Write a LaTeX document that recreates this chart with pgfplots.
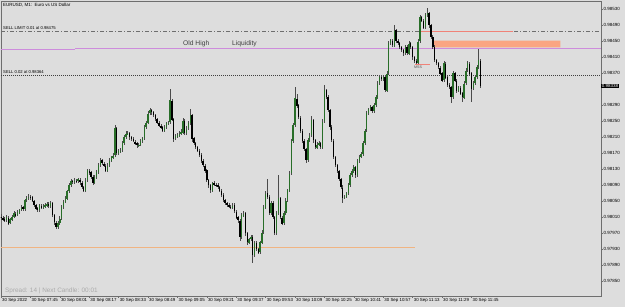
\documentclass[border=0pt]{standalone}
\usepackage{fontspec}
\setmainfont{Liberation Sans}
\usepackage{pgfplots}
\usepackage{pgfplotstable}
\pgfplotsset{compat=1.18}
\definecolor{bgc}{RGB}{221,221,221}
\definecolor{framec}{RGB}{110,110,110}
\definecolor{bull}{RGB}{40,110,40}
\definecolor{wick}{RGB}{75,75,75}
\definecolor{salmonf}{RGB}{250,165,130}
\definecolor{salmonl}{RGB}{240,130,120}
\definecolor{purp}{RGB}{205,140,220}
\definecolor{orangel}{RGB}{240,180,130}
\definecolor{lvl}{RGB}{110,110,110}

\pgfplotstableread{
t o h l c
0 0.98012 0.98018 0.98003 0.98008
1 0.98008 0.98012 0.98000 0.98005
2 0.98005 0.98010 0.97998 0.98002
3 0.98002 0.98015 0.97999 0.98010
4 0.98010 0.98013 0.97990 0.97995
5 0.97995 0.98009 0.97992 0.98005
6 0.98005 0.98016 0.98001 0.98012
7 0.98012 0.98025 0.98008 0.98020
8 0.98020 0.98024 0.98010 0.98015
9 0.98015 0.98027 0.98012 0.98022
10 0.98022 0.98032 0.98018 0.98028
11 0.98028 0.98040 0.98024 0.98035
12 0.98035 0.98038 0.98026 0.98030
13 0.98030 0.98057 0.98027 0.98052
14 0.98052 0.98063 0.98048 0.98058
15 0.98058 0.98068 0.98054 0.98062
16 0.98062 0.98066 0.98055 0.98060
17 0.98060 0.98063 0.98046 0.98050
18 0.98050 0.98054 0.98035 0.98040
19 0.98040 0.98043 0.98028 0.98032
20 0.98032 0.98036 0.98022 0.98027
21 0.98027 0.98045 0.98024 0.98040
22 0.98040 0.98044 0.98031 0.98035
23 0.98035 0.98042 0.98031 0.98037
24 0.98037 0.98045 0.98033 0.98040
25 0.98040 0.98047 0.98036 0.98042
26 0.98042 0.98046 0.98033 0.98038
27 0.98038 0.98051 0.98034 0.98045
28 0.98045 0.98049 0.98010 0.98015
29 0.98015 0.98019 0.97992 0.97997
30 0.97997 0.98001 0.97980 0.97985
31 0.97985 0.98000 0.97982 0.97995
32 0.97995 0.98012 0.97991 0.98007
33 0.98007 0.98040 0.98004 0.98035
34 0.98035 0.98053 0.98031 0.98048
35 0.98048 0.98062 0.98044 0.98057
36 0.98057 0.98080 0.98053 0.98075
37 0.98075 0.98095 0.98071 0.98090
38 0.98090 0.98106 0.98086 0.98100
39 0.98100 0.98104 0.98093 0.98098
40 0.98098 0.98107 0.98094 0.98102
41 0.98102 0.98106 0.98096 0.98100
42 0.98100 0.98109 0.98097 0.98104
43 0.98104 0.98108 0.98092 0.98097
44 0.98097 0.98100 0.98080 0.98085
45 0.98085 0.98089 0.98072 0.98077
46 0.98077 0.98107 0.98074 0.98102
47 0.98102 0.98132 0.98099 0.98127
48 0.98127 0.98131 0.98117 0.98122
49 0.98122 0.98125 0.98105 0.98110
50 0.98110 0.98114 0.98090 0.98095
51 0.98095 0.98115 0.98092 0.98110
52 0.98110 0.98128 0.98106 0.98122
53 0.98122 0.98145 0.98118 0.98140
54 0.98140 0.98158 0.98136 0.98152
55 0.98152 0.98156 0.98141 0.98145
56 0.98145 0.98149 0.98135 0.98140
57 0.98140 0.98143 0.98122 0.98127
58 0.98127 0.98145 0.98124 0.98140
59 0.98140 0.98157 0.98136 0.98152
60 0.98152 0.98165 0.98148 0.98160
61 0.98160 0.98170 0.98156 0.98165
62 0.98165 0.98242 0.98162 0.98232
63 0.98232 0.98236 0.98165 0.98170
64 0.98170 0.98180 0.98166 0.98175
65 0.98175 0.98183 0.98171 0.98177
66 0.98177 0.98200 0.98173 0.98195
67 0.98195 0.98215 0.98191 0.98210
68 0.98210 0.98224 0.98206 0.98218
69 0.98218 0.98226 0.98214 0.98220
70 0.98220 0.98224 0.98205 0.98210
71 0.98210 0.98214 0.98200 0.98205
72 0.98205 0.98209 0.98196 0.98200
73 0.98200 0.98204 0.98190 0.98195
74 0.98195 0.98198 0.98184 0.98190
75 0.98190 0.98197 0.98186 0.98192
76 0.98192 0.98205 0.98188 0.98200
77 0.98200 0.98212 0.98196 0.98207
78 0.98207 0.98240 0.98203 0.98235
79 0.98235 0.98252 0.98231 0.98247
80 0.98247 0.98275 0.98243 0.98270
81 0.98270 0.98283 0.98266 0.98277
82 0.98277 0.98281 0.98267 0.98272
83 0.98272 0.98276 0.98260 0.98265
84 0.98265 0.98269 0.98250 0.98255
85 0.98255 0.98258 0.98242 0.98247
86 0.98247 0.98251 0.98235 0.98240
87 0.98240 0.98244 0.98230 0.98235
88 0.98235 0.98238 0.98222 0.98227
89 0.98227 0.98240 0.98223 0.98235
90 0.98235 0.98250 0.98231 0.98245
91 0.98245 0.98252 0.98241 0.98247
92 0.98247 0.98332 0.98243 0.98302
93 0.98302 0.98306 0.98250 0.98255
94 0.98255 0.98259 0.98200 0.98207
95 0.98207 0.98218 0.98203 0.98212
96 0.98212 0.98220 0.98208 0.98215
97 0.98215 0.98226 0.98211 0.98220
98 0.98220 0.98230 0.98216 0.98222
99 0.98222 0.98258 0.98218 0.98252
100 0.98252 0.98256 0.98214 0.98220
101 0.98220 0.98238 0.98216 0.98232
102 0.98232 0.98250 0.98228 0.98245
103 0.98245 0.98282 0.98241 0.98265
104 0.98265 0.98269 0.98200 0.98207
105 0.98207 0.98211 0.98190 0.98195
106 0.98195 0.98199 0.98180 0.98185
107 0.98185 0.98189 0.98172 0.98177
108 0.98177 0.98181 0.98160 0.98165
109 0.98165 0.98169 0.98145 0.98150
110 0.98150 0.98154 0.98135 0.98140
111 0.98140 0.98144 0.98122 0.98127
112 0.98127 0.98131 0.98097 0.98102
113 0.98102 0.98106 0.98085 0.98090
114 0.98090 0.98094 0.98072 0.98077
115 0.98077 0.98100 0.98073 0.98095
116 0.98095 0.98099 0.98087 0.98092
117 0.98092 0.98096 0.98085 0.98090
118 0.98090 0.98094 0.98080 0.98085
119 0.98085 0.98089 0.98072 0.98077
120 0.98077 0.98081 0.98060 0.98065
121 0.98065 0.98069 0.98047 0.98052
122 0.98052 0.98056 0.98040 0.98045
123 0.98045 0.98049 0.98035 0.98040
124 0.98040 0.98044 0.98032 0.98037
125 0.98037 0.98041 0.98030 0.98035
126 0.98035 0.98045 0.98031 0.98040
127 0.98040 0.98044 0.98020 0.98025
128 0.98025 0.98029 0.98005 0.98010
129 0.98010 0.98014 0.97997 0.98002
130 0.98002 0.98006 0.97952 0.97960
131 0.97960 0.98020 0.97956 0.98015
132 0.98015 0.98026 0.98011 0.98020
133 0.98020 0.98024 0.97965 0.97970
134 0.97970 0.97974 0.97942 0.97947
135 0.97947 0.97960 0.97943 0.97955
136 0.97955 0.97965 0.97951 0.97960
137 0.97960 0.97964 0.97895 0.97915
138 0.97915 0.97950 0.97911 0.97945
139 0.97945 0.97949 0.97925 0.97930
140 0.97930 0.97934 0.97917 0.97922
141 0.97922 0.97952 0.97918 0.97947
142 0.97947 0.97977 0.97943 0.97972
143 0.97972 0.98040 0.97968 0.98035
144 0.98035 0.98075 0.98031 0.98070
145 0.98070 0.98107 0.98055 0.98060
146 0.98060 0.98064 0.98015 0.98020
147 0.98020 0.98050 0.98016 0.98045
148 0.98045 0.98049 0.98005 0.98010
149 0.98010 0.98014 0.97965 0.97970
150 0.97970 0.98025 0.97966 0.98020
151 0.98020 0.98115 0.98016 0.98057
152 0.98057 0.98061 0.98005 0.98010
153 0.98010 0.98014 0.97990 0.97995
154 0.97995 0.98025 0.97991 0.98020
155 0.98020 0.98057 0.98016 0.98052
156 0.98052 0.98082 0.98048 0.98077
157 0.98077 0.98125 0.98073 0.98120
158 0.98120 0.98205 0.98116 0.98200
159 0.98200 0.98245 0.98196 0.98240
160 0.98240 0.98335 0.98236 0.98307
161 0.98307 0.98318 0.98285 0.98290
162 0.98290 0.98294 0.98255 0.98260
163 0.98260 0.98264 0.98222 0.98227
164 0.98227 0.98231 0.98197 0.98202
165 0.98202 0.98206 0.98175 0.98180
166 0.98180 0.98184 0.98145 0.98152
167 0.98152 0.98207 0.98148 0.98202
168 0.98202 0.98220 0.98198 0.98215
169 0.98215 0.98262 0.98211 0.98252
170 0.98252 0.98256 0.98197 0.98202
171 0.98202 0.98206 0.98180 0.98185
172 0.98185 0.98197 0.98181 0.98192
173 0.98192 0.98200 0.98188 0.98195
174 0.98195 0.98199 0.98180 0.98185
175 0.98185 0.98255 0.98181 0.98250
176 0.98250 0.98340 0.98246 0.98327
177 0.98327 0.98331 0.98305 0.98310
178 0.98310 0.98314 0.98272 0.98277
179 0.98277 0.98281 0.98230 0.98235
180 0.98235 0.98239 0.98197 0.98202
181 0.98202 0.98206 0.98155 0.98160
182 0.98160 0.98164 0.98135 0.98140
183 0.98140 0.98144 0.98120 0.98125
184 0.98125 0.98129 0.98100 0.98105
185 0.98105 0.98109 0.98080 0.98085
186 0.98085 0.98089 0.98045 0.98060
187 0.98060 0.98068 0.98056 0.98062
188 0.98062 0.98075 0.98058 0.98070
189 0.98070 0.98095 0.98066 0.98090
190 0.98090 0.98120 0.98086 0.98115
191 0.98115 0.98130 0.98111 0.98125
192 0.98125 0.98140 0.98121 0.98135
193 0.98135 0.98139 0.98110 0.98115
194 0.98115 0.98155 0.98111 0.98150
195 0.98150 0.98167 0.98146 0.98162
196 0.98162 0.98173 0.98158 0.98168
197 0.98168 0.98200 0.98164 0.98195
198 0.98195 0.98232 0.98191 0.98227
199 0.98227 0.98275 0.98223 0.98270
200 0.98270 0.98285 0.98266 0.98280
201 0.98280 0.98290 0.98276 0.98285
202 0.98285 0.98289 0.98270 0.98275
203 0.98275 0.98295 0.98271 0.98290
204 0.98290 0.98315 0.98286 0.98310
205 0.98310 0.98350 0.98306 0.98345
206 0.98345 0.98365 0.98341 0.98360
207 0.98360 0.98364 0.98350 0.98355
208 0.98355 0.98365 0.98351 0.98360
209 0.98360 0.98364 0.98322 0.98327
210 0.98327 0.98375 0.98323 0.98370
211 0.98370 0.98450 0.98366 0.98445
212 0.98445 0.98457 0.98441 0.98452
213 0.98452 0.98456 0.98435 0.98440
214 0.98440 0.98490 0.98436 0.98477
215 0.98477 0.98481 0.98445 0.98450
216 0.98450 0.98454 0.98440 0.98445
217 0.98445 0.98449 0.98430 0.98435
218 0.98435 0.98439 0.98423 0.98428
219 0.98428 0.98432 0.98415 0.98420
220 0.98420 0.98440 0.98416 0.98435
221 0.98435 0.98439 0.98415 0.98420
222 0.98420 0.98450 0.98416 0.98445
223 0.98445 0.98449 0.98430 0.98435
224 0.98435 0.98439 0.98405 0.98410
225 0.98410 0.98414 0.98395 0.98400
226 0.98400 0.98404 0.98392 0.98397
227 0.98397 0.98455 0.98393 0.98450
228 0.98450 0.98515 0.98446 0.98510
229 0.98510 0.98514 0.98497 0.98502
230 0.98502 0.98506 0.98480 0.98485
231 0.98485 0.98520 0.98481 0.98515
232 0.98515 0.98532 0.98511 0.98520
233 0.98520 0.98524 0.98485 0.98490
234 0.98490 0.98494 0.98455 0.98460
235 0.98460 0.98464 0.98430 0.98435
236 0.98435 0.98439 0.98397 0.98402
237 0.98402 0.98406 0.98390 0.98395
238 0.98395 0.98399 0.98380 0.98385
239 0.98385 0.98389 0.98365 0.98370
240 0.98370 0.98374 0.98347 0.98352
241 0.98352 0.98400 0.98348 0.98395
242 0.98395 0.98399 0.98355 0.98360
243 0.98360 0.98364 0.98335 0.98340
244 0.98340 0.98344 0.98330 0.98335
245 0.98335 0.98339 0.98297 0.98310
246 0.98310 0.98375 0.98306 0.98370
247 0.98370 0.98374 0.98347 0.98352
248 0.98352 0.98356 0.98322 0.98327
249 0.98327 0.98340 0.98323 0.98335
250 0.98335 0.98339 0.98315 0.98320
251 0.98320 0.98324 0.98297 0.98310
252 0.98310 0.98350 0.98306 0.98345
253 0.98345 0.98382 0.98341 0.98377
254 0.98377 0.98400 0.98373 0.98395
255 0.98395 0.98399 0.98365 0.98370
256 0.98370 0.98374 0.98297 0.98332
257 0.98332 0.98350 0.98328 0.98345
258 0.98345 0.98365 0.98341 0.98360
259 0.98360 0.98390 0.98356 0.98385
260 0.98385 0.98432 0.98381 0.98402
261 0.98402 0.98406 0.98333 0.98338
}\candles

\begin{document}
\begin{tikzpicture}
\fill[bgc] (-1pt,-11pt) rectangle (624pt,296pt);
\begin{axis}[
  at={(0pt,0pt)}, anchor=south west,
  scale only axis, width=600pt, height=294.5pt,
  xmin=0, xmax=326.53,
  ymin=0.978125, ymax=0.9854875,
  clip mode=individual,
  axis line style={framec, line width=0.6pt},
  tick align=outside, major tick length=2pt,
  tick style={framec, line width=0.4pt},
  xtick pos=bottom, ytick pos=right, yticklabel pos=right,
  scaled y ticks=false,
  ytick={0.9785,0.9789,0.9793,0.9797,0.9801,0.9805,0.9809,0.9813,0.9817,0.9821,0.9825,0.9829,0.9837,0.9841,0.9845,0.9849,0.9853},
  yticklabel style={font=\fontsize{4.5}{5}\selectfont, inner sep=0.5pt, anchor=west,
    /pgf/number format/fixed, /pgf/number format/fixed zerofill,
    /pgf/number format/precision=5, /pgf/number format/assume math mode=true},
  xtick={0,16,32,48,64,80,96,112,128,144,160,176,192,208,224,240,256},
  xticklabels={30 Sep 2022,30 Sep 07:45,30 Sep 08:01,30 Sep 08:17,30 Sep 08:33,30 Sep 08:49,30 Sep 09:05,30 Sep 09:21,30 Sep 09:37,30 Sep 09:53,30 Sep 10:09,30 Sep 10:25,30 Sep 10:41,30 Sep 10:57,30 Sep 11:13,30 Sep 11:29,30 Sep 11:45},
  xticklabel style={font=\fontsize{4.4}{5}\selectfont, anchor=north west, inner sep=0.5pt, xshift=0.5pt},
]
% horizontal levels
\addplot[orangel, line width=0.6pt] coordinates {(0,0.97935) (225.5,0.97935)};
\addplot[lvl, line width=0.5pt, dash pattern=on 4pt off 2pt on 1pt off 2pt] coordinates {(0,0.98475) (326.53,0.98475)};
\addplot[black!75, line width=0.5pt, dash pattern=on 1pt off 1pt] coordinates {(0,0.98364) (326.53,0.98364)};
\addplot[purp, line width=0.7pt] coordinates {(0,0.98430) (40.5,0.98430)};
\addplot[purp, line width=0.7pt] coordinates {(40.5,0.984325) (326.53,0.984325)};
\addplot[fill=salmonf, draw=none] coordinates {(234.8,0.98451) (304.4,0.98451) (304.4,0.98434) (234.8,0.98434) (234.8,0.98451)};
\addplot[salmonl, line width=0.7pt] coordinates {(228.3,0.98475) (278.9,0.98475)};
\addplot[salmonl, line width=0.7pt] coordinates {(225.5,0.983925) (233.7,0.983925)};
% wicks
\addplot[draw=none, mark=none, error bars/.cd, y dir=both, y explicit, error mark=none,
  error bar style={draw=wick, line width=0.65pt}]
  table[x=t, y expr={(\thisrow{h}+\thisrow{l})/2}, y error expr={(\thisrow{h}-\thisrow{l})/2}] {\candles};
% bull bodies
\addplot[draw=none, mark=none, unbounded coords=discard, error bars/.cd, y dir=both, y explicit, error mark=none,
  error bar style={draw=bull, line width=1.4pt}]
  table[x=t, y expr={\thisrow{c}<\thisrow{o} ? nan : (\thisrow{o}+\thisrow{c})/2}, y error expr={max(abs(\thisrow{c}-\thisrow{o})/2,0.000008)}] {\candles};
% bear bodies
\addplot[draw=none, mark=none, unbounded coords=discard, error bars/.cd, y dir=both, y explicit, error mark=none,
  error bar style={draw=black, line width=1.4pt}]
  table[x=t, y expr={\thisrow{c}<\thisrow{o} ? (\thisrow{o}+\thisrow{c})/2 : nan}, y error expr={max(abs(\thisrow{c}-\thisrow{o})/2,0.000008)}] {\candles};
% current price box
\node[fill=black, text=white, inner sep=0.6pt, anchor=west, font=\fontsize{4.5}{5}\selectfont] at (axis cs:326.53,0.98338) {0.98338};
\end{axis}
% texts
\node[anchor=west, inner sep=0pt, font=\fontsize{4.5}{5}\selectfont] at (2pt,291pt) {EURUSD, M1:\ \ Euro vs US Dollar};
\node[anchor=west, inner sep=0pt, font=\fontsize{4.2}{5}\selectfont] at (2pt,267.5pt) {SELL LIMIT 0.01 at 0.98475};
\node[anchor=west, inner sep=0pt, font=\fontsize{4.2}{5}\selectfont] at (2pt,224pt) {SELL 0.02 at 0.98364};
\node[anchor=west, inner sep=0pt, text=black!75, font=\fontsize{6.7}{7}\selectfont] at (182pt,252pt) {Old High};
\node[anchor=west, inner sep=0pt, text=black!75, font=\fontsize{6.7}{7}\selectfont] at (231pt,252pt) {Liquidity};
\node[anchor=west, inner sep=0pt, text=black!70, font=\fontsize{3.6}{4}\selectfont] at (413pt,228.5pt) {MSS};
\node[anchor=west, inner sep=0pt, text={rgb,255:red,170;green,170;blue,170}, font=\fontsize{6.4}{7}\selectfont] at (4pt,5pt) {Spread: 14 | Next Candle: 00:01};
\pgfresetboundingbox
\path[use as bounding box] (-1pt,-11pt) rectangle (624pt,296pt);
\end{tikzpicture}
\end{document}
